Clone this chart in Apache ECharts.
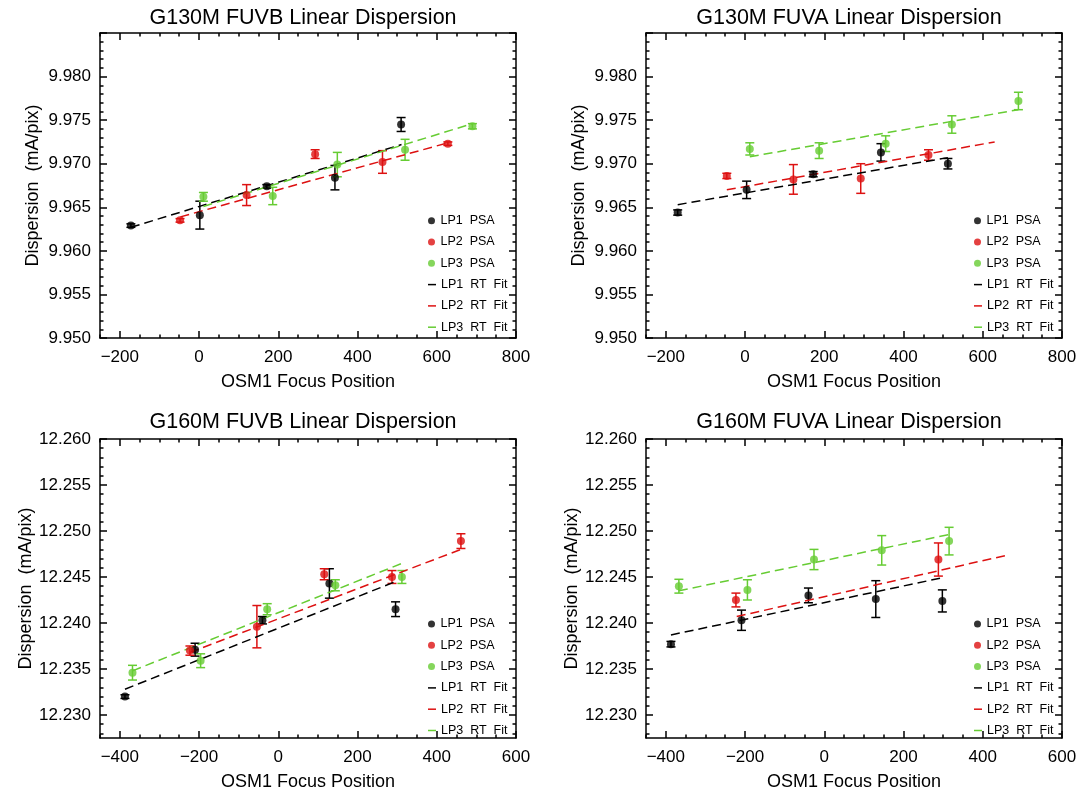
<!DOCTYPE html>
<html>
<head>
<meta charset="utf-8">
<script src="https://cdn.jsdelivr.net/npm/echarts@6/dist/echarts.min.js"></script>
<style>
  html, body { margin: 0; padding: 0; background: #fff; }
  #chart { width: 1081px; height: 792px; }
</style>
</head>
<body>
<div id="chart"></div>
<script>
// ---------------- DATA ----------------
const titles = ['G130M FUVB Linear Dispersion', 'G130M FUVA Linear Dispersion',
                'G160M FUVB Linear Dispersion', 'G160M FUVA Linear Dispersion'];
const legendNames = ['LP1  PSA', 'LP2  PSA', 'LP3  PSA', 'LP1  RT  Fit', 'LP2  RT  Fit', 'LP3  RT  Fit'];
const xAxisTitle = 'OSM1 Focus Position';
const yAxisTitle = 'Dispersion  (mA/pix)';

// tick values
const topXTicks = [-200, 0, 200, 400, 600, 800];
const botXTicks = [-400, -200, 0, 200, 400, 600];
const topYTicks = [9.950, 9.955, 9.960, 9.965, 9.970, 9.975, 9.980];
const botYTicks = [12.230, 12.235, 12.240, 12.245, 12.250, 12.255, 12.260];

// Panel 1: G130M FUVB
const p1_lp1_x = [-172, 2, 171, 343, 510];
const p1_lp1_y = [9.9629, 9.9641, 9.9674, 9.9684, 9.9745];
const p1_lp1_e = [0.0002, 0.0016, 0.0002, 0.0014, 0.0008];
const p1_lp2_x = [-48, 120, 293, 463, 628];
const p1_lp2_y = [9.9635, 9.9664, 9.9711, 9.9702, 9.9723];
const p1_lp2_e = [0.0002, 0.0012, 0.0005, 0.0013, 0.0002];
const p1_lp3_x = [11, 186, 349, 520, 690];
const p1_lp3_y = [9.9662, 9.9663, 9.9699, 9.9716, 9.9743];
const p1_lp3_e = [0.0005, 0.0010, 0.0014, 0.0012, 0.0003];
const p1_fit1 = [[-172, 9.9627], [511, 9.9722]];
const p1_fit2 = [[-47, 9.9639], [628, 9.9724]];
const p1_fit3 = [[11, 9.9651], [690, 9.9746]];

// Panel 2: G130M FUVA
const p2_lp1_x = [-170, 4, 172, 343, 512];
const p2_lp1_y = [9.9644, 9.9670, 9.9688, 9.9713, 9.9700];
const p2_lp1_e = [0.0003, 0.0010, 0.0003, 0.0010, 0.0006];
const p2_lp2_x = [-46, 122, 292, 463];
const p2_lp2_y = [9.9686, 9.9682, 9.9683, 9.9710];
const p2_lp2_e = [0.0003, 0.0017, 0.0017, 0.0006];
const p2_lp3_x = [12, 187, 355, 522, 690];
const p2_lp3_y = [9.9717, 9.9715, 9.9723, 9.9745, 9.9772];
const p2_lp3_e = [0.0007, 0.0009, 0.0009, 0.0010, 0.0010];
const p2_fit1 = [[-170, 9.9653], [512, 9.9707]];
const p2_fit2 = [[-46, 9.9670], [630, 9.9725]];
const p2_fit3 = [[12, 9.9708], [690, 9.9762]];

// Panel 3: G160M FUVB
const p3_lp1_x = [-387, -210, -40, 129, 296];
const p3_lp1_y = [12.2320, 12.2371, 12.2403, 12.2443, 12.2415];
const p3_lp1_e = [0.0002, 0.0007, 0.0004, 0.0016, 0.0008];
const p3_lp2_x = [-223, -54, 116, 287, 461];
const p3_lp2_y = [12.2370, 12.2396, 12.2453, 12.2450, 12.2489];
const p3_lp2_e = [0.0005, 0.0023, 0.0006, 0.0007, 0.0008];
const p3_lp3_x = [-368, -196, -28, 144, 312];
const p3_lp3_y = [12.2346, 12.2359, 12.2415, 12.2441, 12.2450];
const p3_lp3_e = [0.0008, 0.00075, 0.0006, 0.0006, 0.0007];
const p3_fit1 = [[-387, 12.2328], [296, 12.2445]];
const p3_fit2 = [[-223, 12.2368], [461, 12.2480]];
const p3_fit3 = [[-368, 12.2348], [313, 12.2465]];

// Panel 4: G160M FUVA
const p4_lp1_x = [-387, -209, -40, 130, 298];
const p4_lp1_y = [12.2377, 12.2403, 12.2430, 12.2426, 12.2424];
const p4_lp1_e = [0.0003, 0.0011, 0.0008, 0.0020, 0.0012];
const p4_lp2_x = [-223, 288];
const p4_lp2_y = [12.2425, 12.2469];
const p4_lp2_e = [0.00075, 0.0018];
const p4_lp3_x = [-367, -194, -26, 145, 315];
const p4_lp3_y = [12.2440, 12.2436, 12.2469, 12.2479, 12.2489];
const p4_lp3_e = [0.00075, 0.0011, 0.0011, 0.0016, 0.0015];
const p4_fit1 = [[-387, 12.2387], [296, 12.2449]];
const p4_fit2 = [[-221, 12.2407], [464, 12.2474]];
const p4_fit3 = [[-367, 12.2435], [313, 12.2496]];

// ---------------- LAYOUT / STYLE ----------------
const FONT = "'Liberation Sans', Arial, sans-serif";
const COLORS = ['#000000', '#dd1111', '#66cc33'];
const AXIS_W = 1.5;

function range(a, b, step) {
  const out = []; const n = Math.round((b - a) / step);
  for (let i = 0; i <= n; i++) out.push(+(a + i * step).toFixed(6));
  return out;
}

const panels = [
  { left: 100, top: 33, width: 416, height: 305, xmin: -250, xmax: 800, ymin: 9.950, ymax: 9.985,
    xMajor: topXTicks, xMinor: range(-250, 800, 50), yMajor: topYTicks.concat([9.985]), yMinor: range(9.950, 9.985, 0.001),
    yLabels: topYTicks, xLabels: topXTicks,
    pts: [[p1_lp1_x, p1_lp1_y, p1_lp1_e], [p1_lp2_x, p1_lp2_y, p1_lp2_e], [p1_lp3_x, p1_lp3_y, p1_lp3_e]],
    fits: [p1_fit1, p1_fit2, p1_fit3], titleTop: 2, legendTop: 213.7 },
  { left: 646, top: 33, width: 416, height: 305, xmin: -250, xmax: 800, ymin: 9.950, ymax: 9.985,
    xMajor: topXTicks, xMinor: range(-250, 800, 50), yMajor: topYTicks.concat([9.985]), yMinor: range(9.950, 9.985, 0.001),
    yLabels: topYTicks, xLabels: topXTicks,
    pts: [[p2_lp1_x, p2_lp1_y, p2_lp1_e], [p2_lp2_x, p2_lp2_y, p2_lp2_e], [p2_lp3_x, p2_lp3_y, p2_lp3_e]],
    fits: [p2_fit1, p2_fit2, p2_fit3], titleTop: 2, legendTop: 213.7 },
  { left: 100, top: 439, width: 416, height: 303, xmin: -450, xmax: 600, ymin: 12.2275, ymax: 12.260,
    xMajor: botXTicks, xMinor: range(-450, 600, 50), yMajor: botYTicks, yMinor: range(12.228, 12.260, 0.001),
    yLabels: botYTicks, xLabels: botXTicks,
    pts: [[p3_lp1_x, p3_lp1_y, p3_lp1_e], [p3_lp2_x, p3_lp2_y, p3_lp2_e], [p3_lp3_x, p3_lp3_y, p3_lp3_e]],
    fits: [p3_fit1, p3_fit2, p3_fit3], titleTop: 406, legendTop: 617 },
  { left: 646, top: 439, width: 416, height: 303, xmin: -450, xmax: 600, ymin: 12.2275, ymax: 12.260,
    xMajor: botXTicks, xMinor: range(-450, 600, 50), yMajor: botYTicks, yMinor: range(12.228, 12.260, 0.001),
    yLabels: botYTicks, xLabels: botXTicks,
    pts: [[p4_lp1_x, p4_lp1_y, p4_lp1_e], [p4_lp2_x, p4_lp2_y, p4_lp2_e], [p4_lp3_x, p4_lp3_y, p4_lp3_e]],
    fits: [p4_fit1, p4_fit2, p4_fit3], titleTop: 406, legendTop: 617 }
];

const fmtX = v => (v < 0 ? '\u2212' + Math.abs(v) : String(v));
const fmtY = v => Number(v).toFixed(3);

const grid = [], xAxis = [], yAxis = [], series = [], title = [], legend = [];
const lineStyle = { color: '#000', width: AXIS_W };
const ROW = 21.3, TEXT_LH = 14;

panels.forEach((p, gi) => {
  grid.push({ left: p.left, top: p.top, width: p.width, height: p.height, containLabel: false });
  title.push({ text: titles[gi], left: p.left + p.width / 2 - 10, top: p.titleTop, textAlign: 'center',
    textStyle: { fontFamily: FONT, fontSize: 21.5, fontWeight: 'normal', color: '#000' } });

  const xBase = { gridIndex: gi, type: 'value', min: p.xmin, max: p.xmax, splitLine: { show: false }, animation: false };
  const yBase = { gridIndex: gi, type: 'value', min: p.ymin, max: p.ymax, splitLine: { show: false }, animation: false };
  ['bottom', 'top'].forEach(pos => {
    xAxis.push(Object.assign({}, xBase, {
      position: pos,
      axisLine: { show: true, onZero: false, lineStyle },
      axisTick: { show: true, inside: true, length: 7, customValues: p.xMajor, lineStyle },
      axisLabel: pos === 'bottom'
        ? { show: true, customValues: p.xLabels, formatter: fmtX, margin: 11, fontSize: 17, fontFamily: FONT, color: '#000' }
        : { show: false },
      name: pos === 'bottom' ? xAxisTitle : '', nameLocation: 'middle', nameGap: 35,
      nameTextStyle: { fontFamily: FONT, fontSize: 18, color: '#000' }
    }));
    xAxis.push(Object.assign({}, xBase, {
      position: pos,
      axisLine: { show: false, onZero: false },
      axisTick: { show: true, inside: true, length: 3.5, customValues: p.xMinor, lineStyle },
      axisLabel: { show: false }
    }));
  });
  ['left', 'right'].forEach(pos => {
    yAxis.push(Object.assign({}, yBase, {
      position: pos,
      axisLine: { show: true, onZero: false, lineStyle },
      axisTick: { show: true, inside: true, length: 7, customValues: p.yMajor, lineStyle },
      axisLabel: pos === 'left'
        ? { show: true, customValues: p.yLabels, formatter: fmtY, margin: 9, fontSize: 17, fontFamily: FONT, color: '#000' }
        : { show: false },
      name: pos === 'left' ? yAxisTitle : '', nameLocation: 'middle', nameGap: 58, nameRotate: 90,
      nameTextStyle: { fontFamily: FONT, fontSize: 18, color: '#000' }
    }));
    yAxis.push(Object.assign({}, yBase, {
      position: pos,
      axisLine: { show: false, onZero: false },
      axisTick: { show: true, inside: true, length: 3.5, customValues: p.yMinor, lineStyle },
      axisLabel: { show: false }
    }));
  });

  const xi = gi * 4, yi = gi * 4;
  p.fits.forEach((f, k) => {
    series.push({
      type: 'line', name: legendNames[3 + k], xAxisIndex: xi, yAxisIndex: yi,
      data: f, symbol: 'none', showSymbol: false, z: 4, animation: false,
      lineStyle: { color: COLORS[k], width: 1.5, type: [9, 5] }, itemStyle: { color: COLORS[k] }
    });
  });
  p.pts.forEach(([xs, ys, es], k) => {
    const col = COLORS[k];
    series.push({
      type: 'custom', name: 'err' + k, xAxisIndex: xi, yAxisIndex: yi, z: 3, animation: false, silent: true,
      data: xs.map((x, i) => [x, ys[i], es[i]]),
      encode: { x: 0, y: 1 },
      renderItem: (params, api) => {
        const x = api.value(0), y = api.value(1), e = api.value(2);
        const t = api.coord([x, y + e]), b = api.coord([x, y - e]);
        const hw = 4.5, st = { stroke: col, lineWidth: 1.5 };
        return { type: 'group', children: [
          { type: 'line', shape: { x1: t[0], y1: t[1], x2: b[0], y2: b[1] }, style: st },
          { type: 'line', shape: { x1: t[0] - hw, y1: t[1], x2: t[0] + hw, y2: t[1] }, style: st },
          { type: 'line', shape: { x1: b[0] - hw, y1: b[1], x2: b[0] + hw, y2: b[1] }, style: st }
        ] };
      }
    });
    series.push({
      type: 'scatter', name: legendNames[k], xAxisIndex: xi, yAxisIndex: yi, z: 5, animation: false,
      symbol: 'circle', symbolSize: 8, itemStyle: { color: col },
      data: xs.map((x, i) => [x, ys[i]])
    });
  });

  const legText = { fontFamily: FONT, fontSize: 12.5, color: '#000', lineHeight: TEXT_LH };
  legend.push({
    orient: 'vertical', left: p.left + 328, top: p.legendTop, padding: 0,
    itemWidth: 8, itemHeight: 7, itemGap: ROW - TEXT_LH, selectedMode: false, textStyle: legText,
    data: legendNames.slice(0, 3).map(n => ({ name: n, icon: 'circle' }))
  });
  legend.push({
    orient: 'vertical', left: p.left + 328, top: p.legendTop + 3 * ROW, padding: 0,
    itemWidth: 8, itemHeight: 1.5, itemGap: ROW - TEXT_LH, selectedMode: false, textStyle: legText,
    data: legendNames.slice(3).map(n => ({ name: n, icon: 'rect' }))
  });
});

const chart = echarts.init(document.getElementById('chart'), null, { renderer: 'canvas' });
chart.setOption({ animation: false, backgroundColor: '#fff', title, grid, xAxis, yAxis, legend, series });
</script>
</body>
</html>
